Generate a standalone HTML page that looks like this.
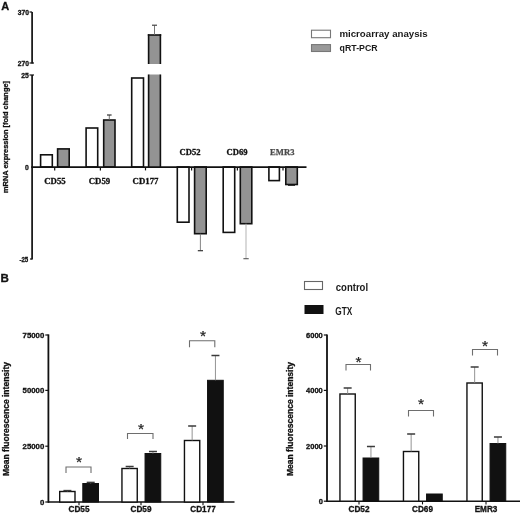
<!DOCTYPE html>
<html><head><meta charset="utf-8"><title>Figure</title>
<style>
html,body{margin:0;padding:0;background:#fff;}
svg{display:block}
.s{font-family:"Liberation Sans",Arial,sans-serif;font-weight:bold;fill:#111;stroke:#111;stroke-width:0.3}
.t{font-family:"Liberation Serif","Times New Roman",serif;font-weight:bold;fill:#111;stroke:#111;stroke-width:0.3}
.l{font-family:"Liberation Sans",Arial,sans-serif;fill:#222;stroke:#222;stroke-width:0.5}
.lb{font-family:"Liberation Sans",Arial,sans-serif;font-weight:bold;fill:#1a1a1a}
.st{font-family:"Liberation Sans",Arial,sans-serif;fill:#222;stroke:#222;stroke-width:0.25}
</style></head><body>
<svg width="520" height="514" viewBox="0 0 520 514">
<rect width="520" height="514" fill="#fff"/>

<text x="1.2" y="9.5" class="s" font-size="11" text-anchor="start" >A</text>
<line x1="32.1" y1="12" x2="32.1" y2="63.5" stroke="#111" stroke-width="1.7"/>
<line x1="29.5" y1="12" x2="32.1" y2="12" stroke="#111" stroke-width="1.2"/>
<line x1="29.5" y1="63" x2="34" y2="63" stroke="#111" stroke-width="1.2"/>
<line x1="32.1" y1="75" x2="32.1" y2="259.5" stroke="#111" stroke-width="1.7"/>
<line x1="29.5" y1="75" x2="34" y2="75" stroke="#111" stroke-width="1.2"/>
<line x1="30" y1="259" x2="32.1" y2="259" stroke="#111" stroke-width="1.2"/>
<text x="29" y="14.6" class="s" font-size="6.7" text-anchor="end" >370</text>
<text x="29" y="65.6" class="s" font-size="6.7" text-anchor="end" >270</text>
<text x="28.7" y="77.9" class="s" font-size="6.8" text-anchor="end" >25</text>
<text x="28.7" y="169.6" class="s" font-size="6.8" text-anchor="end" >0</text>
<text x="28.3" y="261.7" class="s" font-size="6.8" text-anchor="end" textLength="8.9" lengthAdjust="spacingAndGlyphs">-25</text>
<text transform="translate(7.6,137) rotate(-90)" class="s" font-size="7.4" text-anchor="middle" textLength="112" lengthAdjust="spacingAndGlyphs">mRNA expression [fold change]</text>
<rect x="40.6" y="154.8" width="11.7" height="12.2" fill="#fff" stroke="#111" stroke-width="1.6"/>
<rect x="57.6" y="148.9" width="11.6" height="18.1" fill="#939393" stroke="#111" stroke-width="1.6"/>
<rect x="86.1" y="128" width="11.6" height="39" fill="#fff" stroke="#111" stroke-width="1.6"/>
<rect x="103.7" y="120" width="11.3" height="47" fill="#939393" stroke="#111" stroke-width="1.6"/>
<line x1="109.3" y1="120" x2="109.3" y2="115" stroke="#666" stroke-width="0.9"/>
<line x1="107" y1="115" x2="111.6" y2="115" stroke="#333" stroke-width="1.2"/>
<rect x="131.7" y="78" width="11.8" height="89" fill="#fff" stroke="#111" stroke-width="1.6"/>
<rect x="148.5" y="74.5" width="12" height="92.5" fill="#939393"/>
<line x1="148.6" y1="74.5" x2="148.6" y2="167" stroke="#111" stroke-width="1.6"/>
<line x1="160.4" y1="74.5" x2="160.4" y2="167" stroke="#111" stroke-width="1.6"/>
<rect x="148.5" y="35" width="12" height="29" fill="#939393"/>
<line x1="148.6" y1="34.2" x2="148.6" y2="64" stroke="#111" stroke-width="1.6"/>
<line x1="160.4" y1="34.2" x2="160.4" y2="64" stroke="#111" stroke-width="1.6"/>
<line x1="147.8" y1="35" x2="161.2" y2="35" stroke="#111" stroke-width="1.6"/>
<line x1="154.5" y1="35" x2="154.5" y2="25.5" stroke="#666" stroke-width="0.9"/>
<line x1="152" y1="25.2" x2="157" y2="25.2" stroke="#333" stroke-width="1.1"/>
<rect x="177.3" y="167" width="11.7" height="55.2" fill="#fff" stroke="#111" stroke-width="1.6"/>
<rect x="194.6" y="167" width="11.6" height="66.7" fill="#939393" stroke="#111" stroke-width="1.6"/>
<line x1="200.4" y1="233.7" x2="200.4" y2="250.5" stroke="#777" stroke-width="0.9"/>
<line x1="197.8" y1="250.7" x2="203" y2="250.7" stroke="#333" stroke-width="1.2"/>
<rect x="223.2" y="167" width="11.5" height="65.4" fill="#fff" stroke="#111" stroke-width="1.6"/>
<rect x="240.3" y="167" width="11.5" height="56.7" fill="#939393" stroke="#111" stroke-width="1.6"/>
<line x1="246" y1="223.7" x2="246" y2="258.7" stroke="#aaa" stroke-width="0.9"/>
<line x1="243.4" y1="258.7" x2="248.7" y2="258.7" stroke="#555" stroke-width="1.1"/>
<rect x="268.9" y="167" width="10.5" height="13.6" fill="#fff" stroke="#111" stroke-width="1.6"/>
<rect x="285.8" y="167" width="11.5" height="17.5" fill="#939393" stroke="#111" stroke-width="1.6"/>
<line x1="288" y1="185.5" x2="295" y2="185.5" stroke="#333" stroke-width="1"/>
<line x1="31.3" y1="167.1" x2="306.5" y2="167.1" stroke="#111" stroke-width="1.6"/>
<line x1="54.7" y1="167" x2="54.7" y2="170.4" stroke="#111" stroke-width="1.2"/>
<line x1="100.4" y1="167" x2="100.4" y2="170.4" stroke="#111" stroke-width="1.2"/>
<line x1="145.5" y1="167" x2="145.5" y2="170.4" stroke="#111" stroke-width="1.2"/>
<line x1="191.6" y1="167" x2="191.6" y2="170.4" stroke="#111" stroke-width="1.2"/>
<line x1="237.4" y1="167" x2="237.4" y2="170.4" stroke="#111" stroke-width="1.2"/>
<line x1="283" y1="167" x2="283" y2="170.4" stroke="#111" stroke-width="1.2"/>
<text x="55" y="183.8" class="t" font-size="8.8" text-anchor="middle" >CD55</text>
<text x="99.5" y="183.8" class="t" font-size="8.8" text-anchor="middle" >CD59</text>
<text x="145.5" y="183.8" class="t" font-size="8.8" text-anchor="middle" >CD177</text>
<text x="190" y="154.6" class="t" font-size="8.6" text-anchor="middle" >CD52</text>
<text x="237" y="154.6" class="t" font-size="8.6" text-anchor="middle" >CD69</text>
<text x="282.3" y="154.6" class="t" font-size="8.6" text-anchor="middle" style="fill:#4a4a4a;stroke:#4a4a4a;stroke-width:0.25">EMR3</text>
<rect x="311.5" y="30.2" width="19.0" height="7.5" fill="#fff" stroke="#777" stroke-width="1.1"/>
<rect x="311.5" y="44.6" width="19.0" height="6.9" fill="#999" stroke="#777" stroke-width="1.1"/>
<text x="339.4" y="36.8" class="lb" font-size="9.9" textLength="88.3" lengthAdjust="spacingAndGlyphs">microarray anaysis</text>
<text x="339.6" y="51.2" class="lb" font-size="9.6" textLength="38" lengthAdjust="spacingAndGlyphs">qRT-PCR</text>
<text x="0.4" y="282.2" class="s" font-size="11.6" text-anchor="start" >B</text>
<text transform="translate(9,419) rotate(-90)" class="s" font-size="8.7" text-anchor="middle" textLength="114" lengthAdjust="spacingAndGlyphs">Mean fluorescence intensity</text>
<text transform="translate(292.5,419) rotate(-90)" class="s" font-size="8.7" text-anchor="middle" textLength="114" lengthAdjust="spacingAndGlyphs">Mean fluorescence intensity</text>
<line x1="48.4" y1="334.4" x2="48.4" y2="502.7" stroke="#111" stroke-width="1.8"/>
<line x1="45.3" y1="335" x2="48.5" y2="335" stroke="#111" stroke-width="1.2"/>
<text x="44.3" y="337.9" class="s" font-size="7.8" text-anchor="end" >75000</text>
<line x1="45.3" y1="390.4" x2="48.5" y2="390.4" stroke="#111" stroke-width="1.2"/>
<text x="44.3" y="393.29999999999995" class="s" font-size="7.8" text-anchor="end" >50000</text>
<line x1="45.3" y1="446.2" x2="48.5" y2="446.2" stroke="#111" stroke-width="1.2"/>
<text x="44.3" y="449.09999999999997" class="s" font-size="7.8" text-anchor="end" >25000</text>
<line x1="45.3" y1="502" x2="48.5" y2="502" stroke="#111" stroke-width="1.2"/>
<text x="44.3" y="504.9" class="s" font-size="7.8" text-anchor="end" >0</text>
<line x1="48" y1="502" x2="234.5" y2="502" stroke="#111" stroke-width="1.6"/>
<rect x="59.7" y="491.5" width="15.3" height="10.5" fill="#fff" stroke="#111" stroke-width="1.4"/>
<rect x="82.8" y="483.5" width="15.7" height="18.5" fill="#111" stroke="#111" stroke-width="1"/>
<line x1="67.4" y1="491.5" x2="67.4" y2="490.6" stroke="#888" stroke-width="0.9"/>
<line x1="63.400000000000006" y1="490.6" x2="71.4" y2="490.6" stroke="#3a3a3a" stroke-width="1.5"/>
<line x1="90.7" y1="483.5" x2="90.7" y2="482.4" stroke="#888" stroke-width="0.9"/>
<line x1="86.7" y1="482.4" x2="94.7" y2="482.4" stroke="#3a3a3a" stroke-width="1.5"/>
<line x1="79" y1="502" x2="79" y2="505.2" stroke="#111" stroke-width="1.1"/>
<text x="79" y="512.4" class="s" font-size="8.2" text-anchor="middle" >CD55</text>
<polyline points="66,473 66,467 91,467 91,473" fill="none" stroke="#6e6e6e" stroke-width="1.1"/>
<text x="79" y="467.0" class="st" font-size="15.5" text-anchor="middle">*</text>
<rect x="121.95" y="468.5" width="15.3" height="33.5" fill="#fff" stroke="#111" stroke-width="1.4"/>
<rect x="145.05" y="453.5" width="15.7" height="48.5" fill="#111" stroke="#111" stroke-width="1"/>
<line x1="129.65" y1="468.5" x2="129.65" y2="466.5" stroke="#888" stroke-width="0.9"/>
<line x1="125.65" y1="466.5" x2="133.65" y2="466.5" stroke="#3a3a3a" stroke-width="1.5"/>
<line x1="152.95" y1="453.5" x2="152.95" y2="451.5" stroke="#888" stroke-width="0.9"/>
<line x1="148.95" y1="451.5" x2="156.95" y2="451.5" stroke="#3a3a3a" stroke-width="1.5"/>
<line x1="141" y1="502" x2="141" y2="505.2" stroke="#111" stroke-width="1.1"/>
<text x="141" y="512.4" class="s" font-size="8.2" text-anchor="middle" >CD59</text>
<polyline points="127.5,439 127.5,433.5 153,433.5 153,439" fill="none" stroke="#6e6e6e" stroke-width="1.1"/>
<text x="141" y="433.5" class="st" font-size="15.5" text-anchor="middle">*</text>
<rect x="184.45" y="440.5" width="15.3" height="61.5" fill="#fff" stroke="#111" stroke-width="1.4"/>
<rect x="207.55" y="380.3" width="15.7" height="121.7" fill="#111" stroke="#111" stroke-width="1"/>
<line x1="192.15" y1="440.5" x2="192.15" y2="426" stroke="#888" stroke-width="0.9"/>
<line x1="188.15" y1="426" x2="196.15" y2="426" stroke="#3a3a3a" stroke-width="1.5"/>
<line x1="215.45" y1="380.3" x2="215.45" y2="355.5" stroke="#888" stroke-width="0.9"/>
<line x1="211.45" y1="355.5" x2="219.45" y2="355.5" stroke="#3a3a3a" stroke-width="1.5"/>
<line x1="203" y1="502" x2="203" y2="505.2" stroke="#111" stroke-width="1.1"/>
<text x="203" y="512.4" class="s" font-size="8.2" text-anchor="middle" >CD177</text>
<polyline points="189.5,347.2 189.5,340.8 214.8,340.8 214.8,347.2" fill="none" stroke="#6e6e6e" stroke-width="1.1"/>
<text x="203" y="341.0" class="st" font-size="15.5" text-anchor="middle">*</text>
<line x1="327" y1="334.4" x2="327" y2="501.9" stroke="#111" stroke-width="1.8"/>
<line x1="323.8" y1="335" x2="327" y2="335" stroke="#111" stroke-width="1.2"/>
<text x="322.8" y="337.8" class="s" font-size="7.5" text-anchor="end" >6000</text>
<line x1="323.8" y1="390.4" x2="327" y2="390.4" stroke="#111" stroke-width="1.2"/>
<text x="322.8" y="393.2" class="s" font-size="7.5" text-anchor="end" >4000</text>
<line x1="323.8" y1="446" x2="327" y2="446" stroke="#111" stroke-width="1.2"/>
<text x="322.8" y="448.8" class="s" font-size="7.5" text-anchor="end" >2000</text>
<line x1="323.8" y1="501.2" x2="327" y2="501.2" stroke="#111" stroke-width="1.2"/>
<text x="322.8" y="504.0" class="s" font-size="7.5" text-anchor="end" >0</text>
<line x1="326.5" y1="501.2" x2="520" y2="501.2" stroke="#111" stroke-width="1.6"/>
<rect x="339.95" y="394.0" width="15.3" height="107.2" fill="#fff" stroke="#111" stroke-width="1.4"/>
<rect x="363.05" y="458.0" width="15.7" height="43.2" fill="#111" stroke="#111" stroke-width="1"/>
<line x1="347.65" y1="394.0" x2="347.65" y2="388" stroke="#888" stroke-width="0.9"/>
<line x1="343.65" y1="388" x2="351.65" y2="388" stroke="#3a3a3a" stroke-width="1.5"/>
<line x1="370.95" y1="458.0" x2="370.95" y2="446.5" stroke="#888" stroke-width="0.9"/>
<line x1="366.95" y1="446.5" x2="374.95" y2="446.5" stroke="#3a3a3a" stroke-width="1.5"/>
<line x1="359" y1="501.2" x2="359" y2="504.4" stroke="#111" stroke-width="1.1"/>
<text x="359" y="511.59999999999997" class="s" font-size="8.2" text-anchor="middle" >CD52</text>
<polyline points="346,370.5 346,364.5 370.5,364.5 370.5,370.5" fill="none" stroke="#6e6e6e" stroke-width="1.1"/>
<text x="358.5" y="367.0" class="st" font-size="15.5" text-anchor="middle">*</text>
<rect x="403.45" y="451.5" width="15.3" height="49.7" fill="#fff" stroke="#111" stroke-width="1.4"/>
<rect x="426.55" y="494.0" width="15.7" height="7.2" fill="#111" stroke="#111" stroke-width="1"/>
<line x1="411.15" y1="451.5" x2="411.15" y2="434" stroke="#888" stroke-width="0.9"/>
<line x1="407.15" y1="434" x2="415.15" y2="434" stroke="#3a3a3a" stroke-width="1.5"/>
<line x1="422.5" y1="501.2" x2="422.5" y2="504.4" stroke="#111" stroke-width="1.1"/>
<text x="422.5" y="511.59999999999997" class="s" font-size="8.2" text-anchor="middle" >CD69</text>
<polyline points="408.5,416.5 408.5,410.5 433.5,410.5 433.5,416.5" fill="none" stroke="#6e6e6e" stroke-width="1.1"/>
<text x="421" y="409.0" class="st" font-size="15.5" text-anchor="middle">*</text>
<rect x="466.95" y="383.0" width="15.3" height="118.2" fill="#fff" stroke="#111" stroke-width="1.4"/>
<rect x="490.05" y="443.5" width="15.7" height="57.7" fill="#111" stroke="#111" stroke-width="1"/>
<line x1="474.65" y1="383.0" x2="474.65" y2="367" stroke="#888" stroke-width="0.9"/>
<line x1="470.65" y1="367" x2="478.65" y2="367" stroke="#3a3a3a" stroke-width="1.5"/>
<line x1="497.95" y1="443.5" x2="497.95" y2="437" stroke="#888" stroke-width="0.9"/>
<line x1="493.95" y1="437" x2="501.95" y2="437" stroke="#3a3a3a" stroke-width="1.5"/>
<line x1="486" y1="501.2" x2="486" y2="504.4" stroke="#111" stroke-width="1.1"/>
<text x="486" y="511.59999999999997" class="s" font-size="8.2" text-anchor="middle" >EMR3</text>
<polyline points="472.5,355.5 472.5,349.5 497.5,349.5 497.5,355.5" fill="none" stroke="#6e6e6e" stroke-width="1.1"/>
<text x="485" y="351.0" class="st" font-size="15.5" text-anchor="middle">*</text>
<rect x="304.5" y="281.5" width="18.0" height="8.0" fill="#fff" stroke="#666" stroke-width="1.1"/>
<rect x="305" y="305.5" width="18" height="8.0" fill="#111" stroke="#111" stroke-width="1"/>
<text x="335.8" y="291" class="lb" font-size="10.8" textLength="32.3" lengthAdjust="spacingAndGlyphs">control</text>
<text x="335.3" y="315.3" class="lb" font-size="10.2" textLength="17" lengthAdjust="spacingAndGlyphs">GTX</text>
</svg></body></html>
